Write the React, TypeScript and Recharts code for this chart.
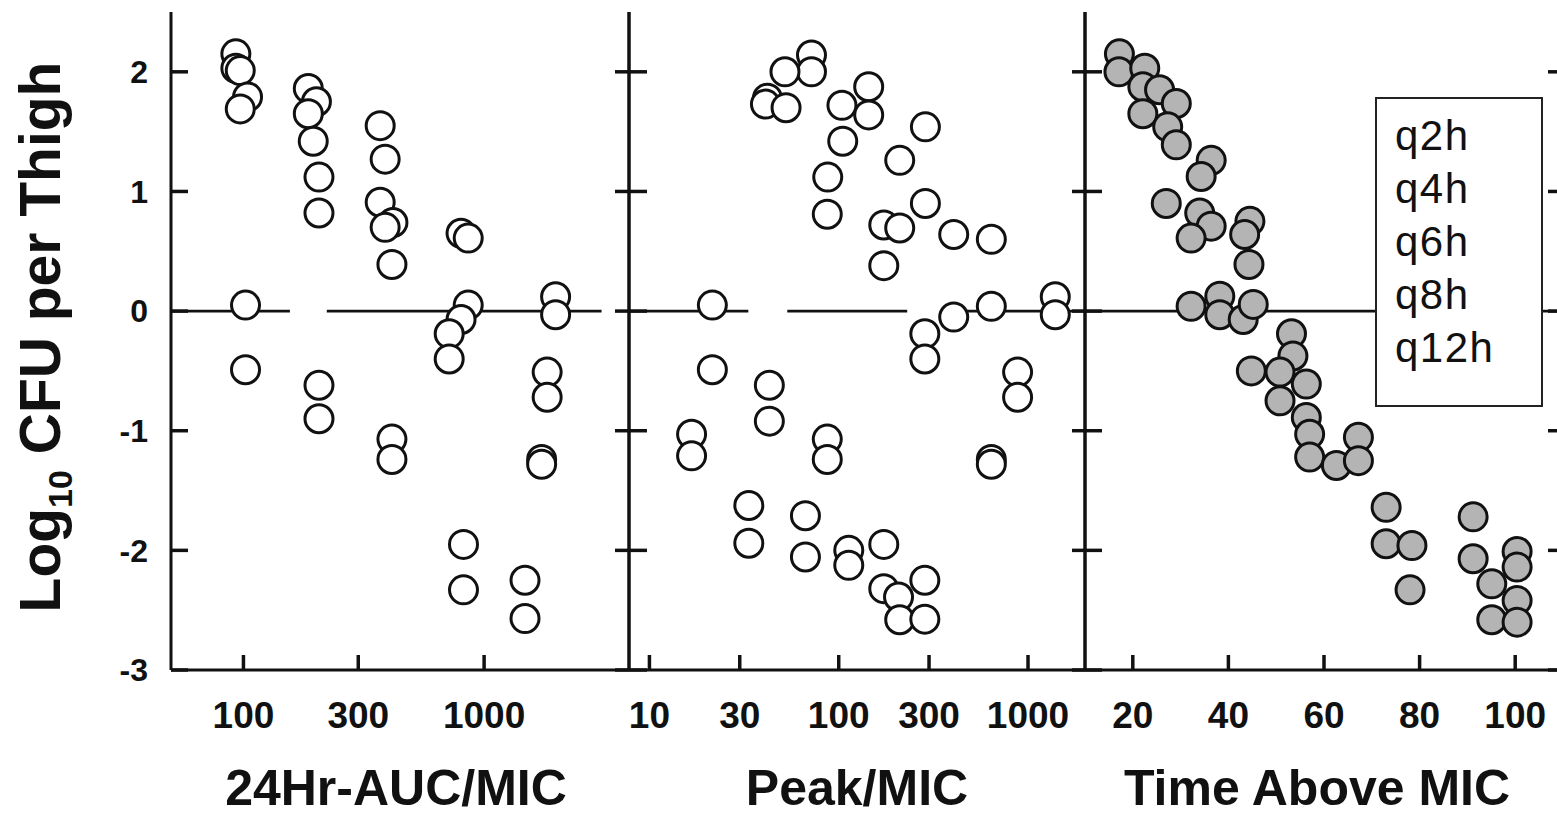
import React from 'react';
import { ScatterChart, Scatter, XAxis, YAxis, ReferenceLine } from 'recharts';

// [x, log10 CFU per thigh]
const aucPoints: [number, number][] = [
  [93, 2.15], [93, 2.03], [97, 2.01], [104, 1.79], [97, 1.69],
  [102, 0.05], [102, -0.49],
  [186, 1.86], [201, 1.75], [186, 1.65], [195, 1.42], [206, 1.12], [206, 0.82], [206, -0.62], [206, -0.9],
  [370, 1.55], [388, 1.27], [370, 0.91], [418, 0.74], [388, 0.7], [414, 0.39], [414, -1.07], [414, -1.24],
  [802, 0.65], [859, 0.61], [859, 0.05], [802, -0.07], [716, -0.19], [716, -0.4], [821, -1.95], [821, -2.33],
  [1982, 0.12], [1982, -0.03], [1828, -0.51], [1828, -0.72], [1734, -1.24], [1734, -1.28], [1479, -2.25], [1479, -2.57],
];

const peakPoints: [number, number][] = [
  [71.8, 2.14], [71.8, 2.0], [52, 2.0], [42, 1.78], [41, 1.73], [52.7, 1.7],
  [144, 1.875], [104, 1.72], [144, 1.64], [105, 1.42], [287, 1.54], [210, 1.26], [87.5, 1.12], [87, 0.81],
  [287, 0.9], [173, 0.72], [210, 0.695], [405, 0.64], [640, 0.6], [173, 0.38],
  [21.5, 0.05], [21.5, -0.49], [43, -0.62], [43, -0.92],
  [285, -0.19], [285, -0.4], [405, -0.05], [640, 0.04], [1393, 0.12], [1393, -0.03], [881, -0.51], [881, -0.72],
  [640, -1.24], [640, -1.28],
  [16.7, -1.03], [16.7, -1.21], [33.5, -1.625], [33.5, -1.94], [87, -1.07], [87, -1.24], [66.7, -1.71], [66.7, -2.055],
  [113, -2.0], [113, -2.125], [173, -1.95], [173, -2.32], [207, -2.39], [210, -2.58], [285, -2.25], [285, -2.575],
];

const timePoints: [number, number][] = [
  [17.2, 2.15], [17.1, 2.0], [22.5, 2.03], [22.1, 1.875], [25.6, 1.85], [29.1, 1.735], [22.1, 1.65], [27.3, 1.54],
  [29.1, 1.39], [36.4, 1.26], [34.3, 1.125], [27.0, 0.9], [34, 0.82], [36.4, 0.71], [32.2, 0.61], [44.5, 0.75],
  [43.4, 0.64], [44.3, 0.39],
  [32.2, 0.04], [38.2, 0.125], [38.2, -0.03], [43.1, -0.07], [45.2, 0.056],
  [53.2, -0.19], [53.5, -0.375], [44.8, -0.5], [50.8, -0.51], [56.3, -0.61], [50.8, -0.75], [56.3, -0.89],
  [57, -1.03], [57, -1.22], [62.6, -1.29], [67.2, -1.055], [67.2, -1.25],
  [73, -1.64], [73, -1.945], [78.4, -1.96], [78, -2.33],
  [91.2, -1.72], [91.2, -2.07], [95.1, -2.28], [95.1, -2.58], [100.4, -2.01], [100.4, -2.14], [100.4, -2.42], [100.4, -2.6],
];

const yTicks = [-3, -2, -1, 0, 1, 2];
const aucTicks = [100, 300, 1000];
const peakTicks = [10, 30, 100, 300, 1000];
const timeTicks = [20, 40, 60, 80, 100];
const dosingLabels = ['q2h', 'q4h', 'q6h', 'q8h', 'q12h'];

// the zero line in the original is broken in a few places
const aucZero: [number, number][] = [[50, 156], [222, 3076]];
const peakZero: [number, number][] = [[7.8, 33.3], [53.5, 230], [400, 2000]];
const timeZero: [number, number][] = [[10, 110]];

const FONT = '"Liberation Sans", Arial, sans-serif';
const INK = '#111';
const CHART_W = 1570;
const CHART_H = 816;

const toRows = (pts: [number, number][]) => pts.map(([x, y]) => ({ x, y }));

const OpenDot = (p: any) => (
  <circle cx={p.cx} cy={p.cy} r={14} fill="#fff" stroke={INK} strokeWidth={3} />
);
const GreyDot = (p: any) => (
  <circle cx={p.cx} cy={p.cy} r={14} fill="#b4b4b4" stroke={INK} strokeWidth={3} />
);
const NoTick = () => <g />;

const yTitle = () => (
  <text
    x={60}
    y={337}
    transform="rotate(-90 60 337)"
    textAnchor="middle"
    fontFamily={FONT}
    fontWeight="bold"
    fontSize={57}
    fill={INK}
  >
    Log
    <tspan fontSize={34} dy={12}>10</tspan>
    <tspan dy={-12}> CFU per Thigh</tspan>
  </text>
);

interface PanelProps {
  x0: number; // left edge of the plot area
  x1: number; // right edge of the plot area
  scale: 'log' | 'linear';
  domain: [number, number];
  ticks: number[];
  title: string;
  titleX: number;
  points: [number, number][];
  zero: [number, number][];
  leftTick: number;
  rightTick: number;
  grey?: boolean;
  first?: boolean;
}

const Panel: React.FC<PanelProps> = (p) => {
  const line = { stroke: INK, strokeWidth: 3 };
  const tickLine = { stroke: INK, strokeWidth: 3.5 };
  // an axis needs a width above 0 to be drawn at all
  const yWidth = p.first ? p.x0 : 1;
  return (
    <ScatterChart
      width={CHART_W}
      height={CHART_H}
      margin={{ top: 12, right: CHART_W - p.x1 - 1, bottom: 0, left: p.x0 - yWidth }}
    >
      <XAxis
        type="number"
        dataKey="x"
        scale={p.scale}
        domain={p.domain}
        ticks={p.ticks}
        interval={0}
        allowDataOverflow
        height={146}
        tickSize={-15}
        tickMargin={47}
        axisLine={line}
        tickLine={tickLine}
        tick={{ fontSize: 37, fontWeight: 700, fill: INK, fontFamily: FONT }}
        label={{
          content: () => (
            <text x={p.titleX} y={805} textAnchor="middle" fontFamily={FONT} fontWeight="bold" fontSize={50} fill={INK}>
              {p.title}
            </text>
          ),
        }}
      />
      <YAxis
        yAxisId="l"
        type="number"
        dataKey="y"
        domain={[-3, 2.5]}
        ticks={yTicks}
        interval={0}
        allowDataOverflow
        width={yWidth}
        tickSize={-p.leftTick}
        tickMargin={40}
        axisLine={line}
        tickLine={tickLine}
        tick={p.first ? { fontSize: 32, fontWeight: 700, fill: INK, fontFamily: FONT } : NoTick}
        label={p.first ? { content: yTitle } : undefined}
      />
      <YAxis
        yAxisId="r"
        orientation="right"
        type="number"
        domain={[-3, 2.5]}
        ticks={yTicks}
        interval={0}
        allowDataOverflow
        width={1}
        tickSize={-p.rightTick}
        axisLine={line}
        tickLine={tickLine}
        tick={NoTick}
      />
      {p.zero.map(([a, b], i) => (
        <ReferenceLine
          key={i}
          yAxisId="l"
          segment={[{ x: a, y: 0 }, { x: b, y: 0 }]}
          stroke={INK}
          strokeWidth={2.8}
        />
      ))}
      <Scatter
        yAxisId="l"
        data={toRows(p.points)}
        shape={p.grey ? GreyDot : OpenDot}
        isAnimationActive={false}
      />
    </ScatterChart>
  );
};

const layer: React.CSSProperties = { position: 'absolute', left: 0, top: 0 };

export default function App() {
  return (
    <div style={{ position: 'absolute', left: 0, top: 0, width: 1557, height: 816, overflow: 'hidden', background: '#fff' }}>
      <div style={layer}>
        <Panel
          x0={171} x1={629}
          scale="log" domain={[50, 4000]} ticks={aucTicks}
          title="24Hr-AUC/MIC" titleX={396}
          points={aucPoints} zero={aucZero}
          leftTick={17} rightTick={14} first
        />
      </div>
      <div style={layer}>
        <Panel
          x0={629} x1={1085}
          scale="log" domain={[7.8, 2000]} ticks={peakTicks}
          title="Peak/MIC" titleX={857}
          points={peakPoints} zero={peakZero}
          leftTick={18} rightTick={13}
        />
      </div>
      <div style={layer}>
        <Panel
          x0={1085} x1={1563}
          scale="linear" domain={[10, 110]} ticks={timeTicks}
          title="Time Above MIC" titleX={1317}
          points={timePoints} zero={timeZero}
          leftTick={17} rightTick={15} grey
        />
      </div>
      <div
        style={{
          position: 'absolute', left: 1375, top: 97, width: 146, height: 296,
          border: '2px solid #222', background: '#fff',
          fontFamily: FONT, fontSize: 42, letterSpacing: 1.5, lineHeight: '53px',
          color: INK, paddingTop: 10, paddingLeft: 18, boxSizing: 'content-box',
        }}
      >
        {dosingLabels.map((t) => (
          <div key={t}>{t}</div>
        ))}
      </div>
    </div>
  );
}
